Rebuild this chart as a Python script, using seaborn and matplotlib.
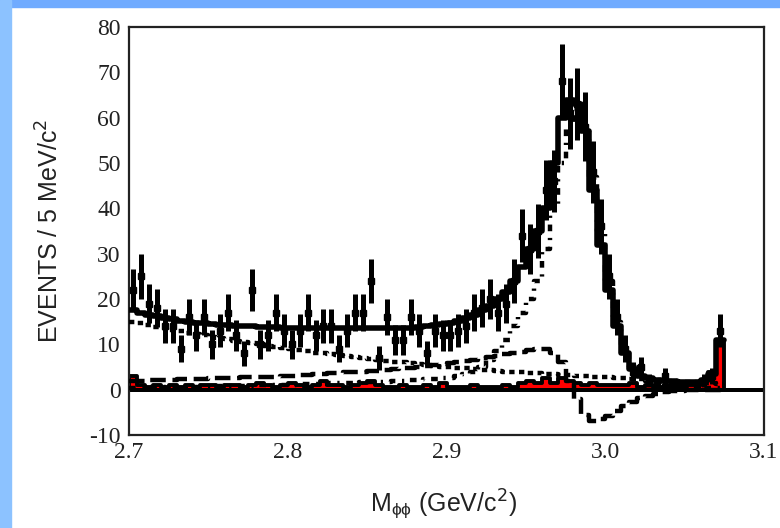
import numpy as np
import pandas as pd
import matplotlib
matplotlib.use("Agg")
import matplotlib.pyplot as plt
from matplotlib.patches import Rectangle
import seaborn as sns

# binning: 5 MeV bins from 2.7 to 3.1 GeV
lo, hi, width = 2.7, 3.1, 0.005
edges = np.round(np.arange(lo, hi + width / 2, width), 4)
centers = edges[:-1] + width / 2

# data points (events per bin), bins 0-74 (nothing above 3.075)
data = [22, 25, 19, 18, 14, 14, 9, 16, 12, 16,
        10, 13, 17, 12, 8, 22, 10, 12, 17, 13,
        10, 13, 17, 12, 14, 14, 9, 13, 17, 17,
        24, 7, 16, 11, 11, 16, 13, 8, 13, 12,
        12, 13, 14, 17, 18, 20, 17, 19, 24, 34,
        31, 35, 44, 46, 68, 61, 63, 58, 48, 36,
        25, 16, 9, 4, 5, 2, 1, 3, 1, 1,
        0, 1, 2, 3, 13]

# total fit
fit_total = [17.5, 17, 16.5, 16.2, 15.8, 15.5, 15.2, 15, 14.8, 14.6,
             14.5, 14.3, 14.2, 14.1, 14, 14, 13.9, 13.8, 13.8, 13.7,
             13.7, 13.6, 13.6, 13.5, 13.5, 13.5, 13.5, 13.5, 13.5, 13.5,
             13.5, 13.5, 13.5, 13.5, 13.6, 13.7, 13.8, 14, 14.2, 14.4,
             14.7, 15.2, 15.8, 16.5, 17.5, 18.5, 20, 21.5, 24, 27,
             31, 35, 40, 50, 60, 64, 63, 57, 44, 32,
             22, 14, 8, 4.5, 3, 2.5, 2.2, 2, 1.9, 1.8,
             1.8, 1.8, 2.2, 3.5, 11]

# eta_c signal
signal = [0.4, 0.4, 0.5, 0.5, 0.5, 0.6, 0.6, 0.6, 0.7, 0.7,
          0.7, 0.8, 0.8, 0.8, 0.9, 0.9, 1.0, 1.0, 1.0, 1.1,
          1.1, 1.2, 1.2, 1.3, 1.3, 1.4, 1.4, 1.5, 1.5, 1.6,
          1.7, 1.7, 1.8, 1.9, 2.0, 2.1, 2.2, 2.3, 2.4, 2.5,
          2.6, 3.0, 3.5, 4.0, 5.0, 6.5, 8.5, 11, 14, 17,
          20, 24, 31, 40, 50, 58, 62, 57, 47, 35,
          24, 15, 9, 5, 3, 2, 1.3, 0.9, 0.6, 0.5,
          0.4, 0.3, 0.3, 0.3, 0.3]

# non-resonant background
background = [15, 14.6, 14.2, 13.8, 13.5, 13.2, 12.9, 12.6, 12.3, 12,
              11.7, 11.4, 11.1, 10.8, 10.5, 10.2, 10, 9.7, 9.5, 9.2,
              9.0, 8.7, 8.5, 8.2, 8.0, 7.8, 7.6, 7.4, 7.2, 7.0,
              6.8, 6.6, 6.4, 6.2, 6.0, 5.8, 5.6, 5.4, 5.3, 5.1,
              5.0, 4.8, 4.7, 4.5, 4.4, 4.3, 4.1, 4.0, 3.9, 3.8,
              3.7, 3.6, 3.5, 3.4, 3.3, 3.2, 3.1, 3.0, 2.9, 2.8,
              2.7, 2.6, 2.5, 2.4, 2.3, 2.2, 2.1, 2.0, 1.9, 1.8,
              1.7, 1.6, 1.5, 1.4, 1.3]

# interference term
interference = [2.0, 2.0, 2.1, 2.1, 2.2, 2.2, 2.3, 2.3, 2.4, 2.4,
                2.5, 2.5, 2.6, 2.6, 2.7, 2.7, 2.8, 2.9, 2.9, 3.0,
                3.1, 3.2, 3.3, 3.4, 3.5, 3.6, 3.7, 3.8, 3.9, 4.0,
                4.1, 4.2, 4.4, 4.5, 4.7, 4.8, 5.0, 5.2, 5.4, 5.6,
                5.8, 6.0, 6.3, 6.6, 6.9, 7.2, 7.5, 7.8, 8.1, 8.4,
                8.7, 8.9, 9.0, 8.0, 6.0, 2.0, -2.0, -5.5, -7.0, -6.5,
                -5.8, -4.8, -3.5, -2.8, -1.8, -1.3, -0.9, -0.6, -0.4, -0.2,
                -0.1, 0, 0, 0, 0]

# non-phiphi background from sidebands (red)
sideband = [3, 1, 0.5, 1, 0.5, 1, 0.5, 1, 0.5, 1,
            1, 0.5, 1, 1, 0.5, 1, 1.5, 1, 0.5, 1,
            1.5, 1, 0.5, 1, 2, 1, 1, 0.5, 1, 1.5,
            2, 1, 0.5, 0.5, 1, 0.5, 0.5, 1, 0.5, 1.5,
            0.5, 0.5, 0.5, 1, 0.5, 0.5, 0.5, 1, 0.5, 1.5,
            2, 1.5, 2.5, 1.5, 2.5, 2, 1.5, 1, 1.5, 1,
            1, 1, 1, 1.5, 0.5, 1, 0.5, 0.5, 1, 0.5,
            1, 1, 2, 4, 11, 0, 0, 0, 0, 0]


def stairs(vals):
    n = len(vals)
    return edges[:n + 1], np.append(vals, vals[-1])


sns.set_theme(style="white")
plt.rcParams["font.family"] = ["Liberation Sans", "DejaVu Sans"]
plt.rcParams["axes.unicode_minus"] = False

fig = plt.figure(figsize=(7.8, 5.28), dpi=100)
fig.patch.set_facecolor("white")
fig.patches.append(Rectangle((0, 1 - 7 / 528), 1, 7 / 528, transform=fig.transFigure,
                             color="#70abff", zorder=0))
fig.patches.append(Rectangle((0, 0), 11 / 780, 1, transform=fig.transFigure,
                             color="#8cc2ff", zorder=0))

ax = fig.add_axes([0.1654, 0.1761, 0.8141, 0.7728])

# sideband background, red filled
sb = pd.DataFrame({"m": centers, "n": sideband})
sns.histplot(data=sb, x="m", weights="n", binwidth=width, binrange=(lo, hi),
             element="step", fill=True, color="red", edgecolor="black",
             linewidth=2.8, alpha=1, ax=ax, zorder=2)
ax.axhline(0, color="black", lw=2.8, zorder=2)

lw = 3.2
x, y = stairs(background)
sns.lineplot(x=x, y=y, drawstyle="steps-post", color="black", lw=lw,
             linestyle=(0, (1.2, 1.0)), ax=ax, zorder=3)
x, y = stairs(interference)
sns.lineplot(x=x, y=y, drawstyle="steps-post", color="black", lw=lw,
             linestyle=(0, (3.5, 1.5)), ax=ax, zorder=3)
x, y = stairs(signal)
sns.lineplot(x=x, y=y, drawstyle="steps-post", color="black", lw=lw,
             linestyle=(0, (1.5, 1.5, 0.5, 1.5)), ax=ax, zorder=3)
x, y = stairs(fit_total)
sns.lineplot(x=x, y=y, drawstyle="steps-post", color="black", lw=4,
             ax=ax, zorder=4)

# data with Poisson errors
d = np.array(data, dtype=float)
nz = d > 0
ax.errorbar(centers[:len(d)][nz], d[nz], yerr=np.sqrt(d[nz]), fmt="s", color="black",
            ms=5, elinewidth=3.6, capsize=0, zorder=5)

ax.set_xlim(lo, hi)
ax.set_ylim(-10, 80)
ax.set_xticks(np.arange(2.7, 3.11, 0.1))
ax.set_xticklabels(["2.7", "2.8", "2.9", "3.0", "3.1"])
ax.set_xticks(np.arange(2.7, 3.101, 0.02), minor=True)
ax.set_yticks(np.arange(-10, 81, 10))
ax.set_yticks(np.arange(-10, 81, 2), minor=True)
ax.tick_params(which="both", direction="in", top=False, right=False,
               width=1.4, color="black")
ax.tick_params(which="major", length=12)
ax.tick_params(which="minor", length=6)
ax.tick_params(axis="y", pad=6)
ax.tick_params(axis="x", pad=5)
for lab in ax.get_xticklabels() + ax.get_yticklabels():
    lab.set_fontfamily(["Liberation Serif", "DejaVu Serif"])
    lab.set_fontsize(17)
    lab.set_color("#222222")
for sp in ax.spines.values():
    sp.set_linewidth(1.6)
    sp.set_color("#222222")
ax.set_xlabel("")
ax.set_ylabel("")

fig.text(0.064, 0.563, "EVENTS / 5 MeV/c$^2$", rotation=90, ha="center", va="center",
         fontsize=18, color="#222222")
fig.text(0.569, 0.045, "M$_{\\mathregular{ϕϕ}}$ (GeV/c$^2$)", ha="center", va="center",
         fontsize=18, color="#222222")

fig.savefig("out.png", dpi=100, facecolor=fig.get_facecolor())
